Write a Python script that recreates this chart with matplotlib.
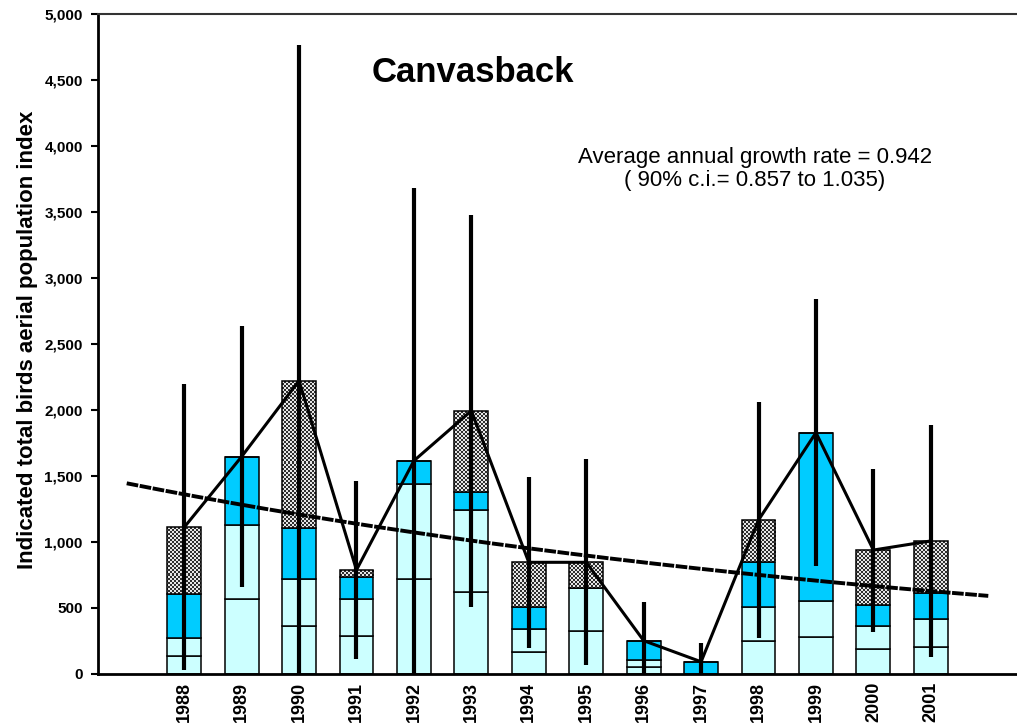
import numpy as np
import matplotlib
matplotlib.use("Agg")
import matplotlib.pyplot as plt
from matplotlib.colors import ListedColormap
from matplotlib.ticker import FuncFormatter

plt.rcParams['font.family'] = ['Liberation Sans', 'DejaVu Sans']

years = ['1988', '1989', '1990', '1991', '1992', '1993', '1994',
         '1995', '1996', '1997', '1998', '1999', '2000', '2001']
# stacked components of the index
singles_low = [135, 565, 360, 287, 716, 620, 161, 324, 52, 0, 249, 274, 183, 203]
singles_high = [136, 561, 356, 280, 721, 620, 174, 322, 51, 0, 253, 278, 179, 208]
pairs = [332, 518, 389, 167, 176, 134, 171, 0, 146, 89, 341, 1274, 157, 197]
groups = [505, 0, 1115, 51, 0, 618, 337, 197, 0, 0, 321, 0, 417, 397]
# 90% confidence interval of the total
ci_low = [27, 654, 0, 108, 0, 506, 191, 64, 0, 0, 267, 815, 312, 127]
ci_high = [2195, 2635, 4765, 1459, 3683, 3476, 1492, 1624, 544, 229, 2061, 2837, 1550, 1884]
# fitted trend
trend_start = 1442
growth_rate = 0.942

x = np.arange(len(years))
s_low = np.array(singles_low)
s_high = np.array(singles_high)
pr = np.array(pairs)
gr = np.array(groups)
total = s_low + s_high + pr + gr

fig = plt.figure(figsize=(10.17, 7.25), dpi=100)
ax = fig.add_axes([98 / 1017, 51.5 / 725, 919 / 1017, 659.5 / 725])

xlim = (-1.5, 14.5)
ylim = (0, 5000)
w = 0.59
lw_edge = 1.1
light = '#CCFFFF'
blue = '#00CCFF'

ax.bar(x, s_low, w, color=light, edgecolor='black', linewidth=lw_edge, zorder=2)
ax.bar(x, s_high, w, bottom=s_low, color=light, edgecolor='black', linewidth=lw_edge, zorder=2)
ax.bar(x, pr, w, bottom=s_low + s_high, color=blue, edgecolor='black', linewidth=lw_edge, zorder=2)
gbars = ax.bar(x, gr, w, bottom=s_low + s_high + pr, color='none', edgecolor='black',
               linewidth=lw_edge, zorder=3)

# checkered fill for the groups segment (2 px cells)
ny, nx = 330, 460
checker = (np.add.outer(np.arange(ny), np.arange(nx)) % 2).astype(float)
cmap = ListedColormap(['#2e2e2e', '#e6e6e6'])
for b, g in zip(gbars, gr):
    if g <= 0:
        continue
    im = ax.imshow(checker, cmap=cmap, extent=(xlim[0], xlim[1], ylim[0], ylim[1]),
                   aspect='auto', interpolation='nearest', origin='lower', zorder=2.5)
    im.set_clip_path(b)

ax.vlines(x, ci_low, ci_high, color='black', linewidth=3, zorder=4)
ax.plot(x, total, color='black', linewidth=2.2, zorder=5)

xt = np.linspace(-1, 14, 200)
ax.plot(xt, trend_start * growth_rate ** (xt + 1), color='black', linewidth=2.8,
        linestyle=(0, (3, 0.4)), zorder=4.5)

ax.set_xlim(*xlim)
ax.set_ylim(*ylim)
ax.set_xticks(x)
ax.set_xticklabels(years, rotation=90, fontsize=13, fontweight='bold')
ax.set_yticks(np.arange(0, 5001, 500))
ax.yaxis.set_major_formatter(FuncFormatter(lambda v, p: f'{int(v):,}'))
for lab in ax.get_yticklabels():
    lab.set_fontweight('bold')
ax.tick_params(axis='y', length=5, width=1.5, direction='out', pad=6, labelsize=11)
ax.tick_params(axis='x', length=0, pad=6)

ax.spines['right'].set_visible(False)
ax.spines['left'].set_linewidth(2)
ax.spines['bottom'].set_linewidth(2)
ax.spines['top'].set_linewidth(1.5)
ax.spines['top'].set_color('#333333')

fig.text(473 / 1017, 1 - 72 / 725, 'Canvasback', fontsize=25, fontweight='bold',
         ha='center', va='center')
fig.text(755 / 1017, 1 - 169 / 725,
         'Average annual growth rate = 0.942\n( 90% c.i.= 0.857 to 1.035)',
         fontsize=16, ha='center', va='center', linespacing=1.15)
fig.text(28 / 1017, 1 - 340 / 725, 'Indicated total birds aerial population index',
         fontsize=16, fontweight='bold', rotation=90, ha='center', va='center')

fig.savefig('out.png', dpi=100)
